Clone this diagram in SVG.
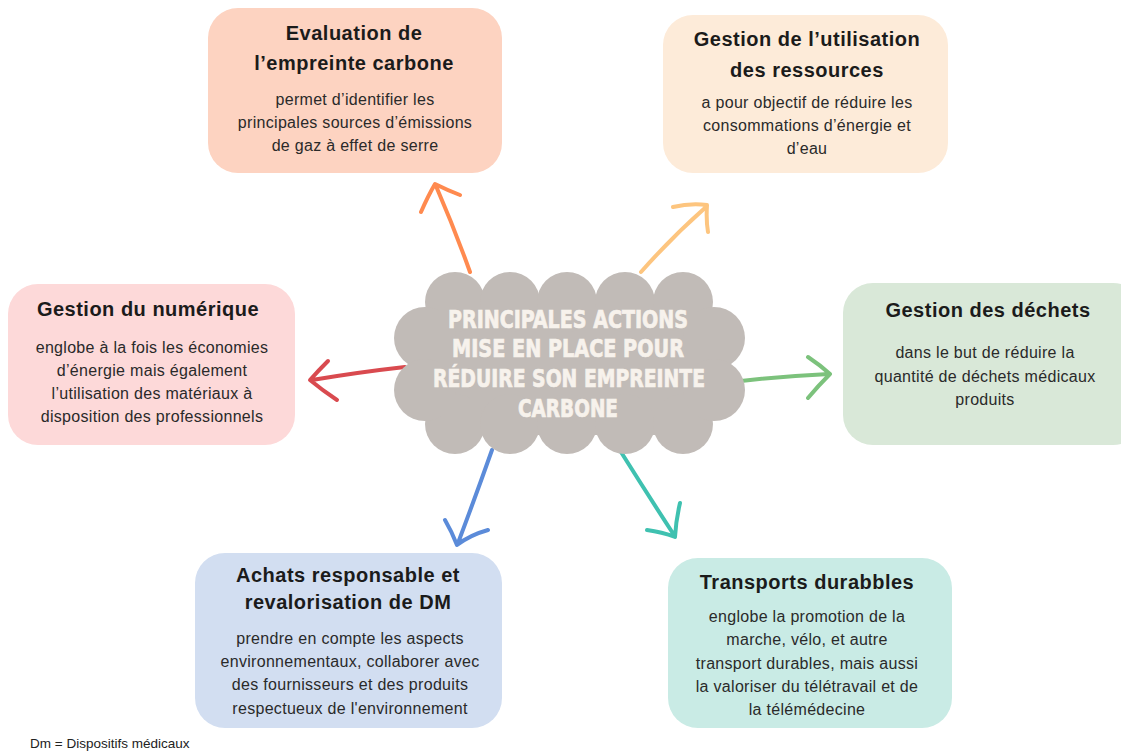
<svg xmlns="http://www.w3.org/2000/svg" width="1121" height="751" viewBox="0 0 1121 751">
<style>
.t{font-family:"Liberation Sans",Arial,sans-serif;font-weight:bold;font-size:20px;fill:#1b1b1b;text-anchor:middle;letter-spacing:0.5px}
.b{font-family:"Liberation Sans",Arial,sans-serif;font-size:16px;fill:#2a2a2a;text-anchor:middle;letter-spacing:0.3px}
.c{font-family:"Liberation Sans Narrow","DejaVu Sans Condensed",sans-serif;font-weight:bold;font-size:25px;fill:#F7F2EC;stroke:#F7F2EC;stroke-width:0.7;text-anchor:middle}
.a{fill:none;stroke-width:4;stroke-linecap:round;stroke-linejoin:round}
</style>
<rect width="1121" height="751" fill="#ffffff"/>
<g id="connectors">
<path class="a" stroke="#FF8A4F" d="M470,272 Q455,230 436,186 M421,212 Q428,196 435,184 Q447,190 460,195"/>
<path class="a" stroke="#FDC57F" d="M641,272 Q672,237 706,207 M673,207 Q690,203 707,205 Q706,220 708,232"/>
<path class="a" stroke="#D94A4F" d="M405,367 Q360,372 312,380 M328,361 Q318,371 310,380 Q322,390 337,400"/>
<path class="a" stroke="#7CC27C" d="M741,381 Q785,376 829,374 M808,357 Q820,365 830,374 Q818,386 808,398"/>
<path class="a" stroke="#5B8BD9" d="M492,450 Q475,498 458,543 M445,520 Q452,532 457,545 Q470,535 488,530"/>
<path class="a" stroke="#3FC1B0" d="M621,452 Q648,495 674,535 M647,530 Q662,532 675,537 Q676,520 680,503"/>
</g>
<g id="center" fill="#C1BBB7">
<rect x="440" y="295" width="260" height="140"/>
<circle cx="455" cy="302" r="30"/><circle cx="510" cy="302" r="30"/><circle cx="567" cy="302" r="30"/><circle cx="625" cy="302" r="30"/><circle cx="683" cy="302" r="30"/>
<circle cx="455" cy="424" r="30"/><circle cx="510" cy="424" r="30"/><circle cx="567" cy="424" r="30"/><circle cx="625" cy="424" r="30"/><circle cx="683" cy="424" r="30"/>
<circle cx="425" cy="338" r="31"/><circle cx="425" cy="390" r="31"/><circle cx="714" cy="338" r="31"/><circle cx="714" cy="390" r="31"/>
<text class="c" x="568" y="328" textLength="240" lengthAdjust="spacingAndGlyphs">PRINCIPALES ACTIONS</text>
<text class="c" x="568" y="357" textLength="232" lengthAdjust="spacingAndGlyphs">MISE EN PLACE POUR</text>
<text class="c" x="569" y="387" textLength="272" lengthAdjust="spacingAndGlyphs">RÉDUIRE SON EMPREINTE</text>
<text class="c" x="568" y="417" textLength="100" lengthAdjust="spacingAndGlyphs">CARBONE</text>
</g>
<g id="evaluation">
<rect x="208" y="8" width="294" height="165" rx="30" fill="#FDD3C1"/>
<text class="t" x="354" y="40">Evaluation de</text>
<text class="t" x="354" y="70">l’empreinte carbone</text>
<text class="b" x="355" y="105">permet d’identifier les</text>
<text class="b" x="355" y="128">principales sources d’émissions</text>
<text class="b" x="355" y="151">de gaz à effet de serre</text>
</g>
<g id="ressources">
<rect x="663" y="15" width="285" height="158" rx="30" fill="#FDEBD9"/>
<text class="t" x="807" y="46">Gestion de l’utilisation</text>
<text class="t" x="807" y="77">des ressources</text>
<text class="b" x="807" y="108">a pour objectif de réduire les</text>
<text class="b" x="807" y="131">consommations d’énergie et</text>
<text class="b" x="807" y="154">d’eau</text>
</g>
<g id="numerique">
<rect x="8" y="284" width="287" height="161" rx="30" fill="#FDD9D9"/>
<text class="t" x="148" y="316">Gestion du numérique</text>
<text class="b" x="152" y="353">englobe à la fois les économies</text>
<text class="b" x="152" y="376">d’énergie mais également</text>
<text class="b" x="152" y="399">l’utilisation des matériaux à</text>
<text class="b" x="152" y="422">disposition des professionnels</text>
</g>
<g id="dechets">
<rect x="843" y="283" width="300" height="162" rx="30" fill="#D9E8D8"/>
<text class="t" x="988" y="317">Gestion des déchets</text>
<text class="b" x="985" y="358">dans le but de réduire la</text>
<text class="b" x="985" y="382">quantité de déchets médicaux</text>
<text class="b" x="985" y="405">produits</text>
</g>
<g id="achats">
<rect x="195" y="553" width="307" height="175" rx="30" fill="#D2DEF1"/>
<text class="t" x="348" y="582">Achats responsable et</text>
<text class="t" x="348" y="609">revalorisation de DM</text>
<text class="b" x="350" y="644">prendre en compte les aspects</text>
<text class="b" x="350" y="667">environnementaux, collaborer avec</text>
<text class="b" x="350" y="690">des fournisseurs et des produits</text>
<text class="b" x="350" y="714">respectueux de l'environnement</text>
</g>
<g id="transports">
<rect x="668" y="558" width="284" height="170" rx="30" fill="#C9EBE5"/>
<text class="t" x="807" y="589">Transports durabbles</text>
<text class="b" x="807" y="622">englobe la promotion de la</text>
<text class="b" x="807" y="645">marche, vélo, et autre</text>
<text class="b" x="807" y="669">transport durables, mais aussi</text>
<text class="b" x="807" y="692">la valoriser du télétravail et de</text>
<text class="b" x="807" y="715">la télémédecine</text>
</g>
<text x="30" y="748" font-family="'Liberation Sans',Arial,sans-serif" font-size="13.5" fill="#222">Dm = Dispositifs médicaux</text>
</svg>
